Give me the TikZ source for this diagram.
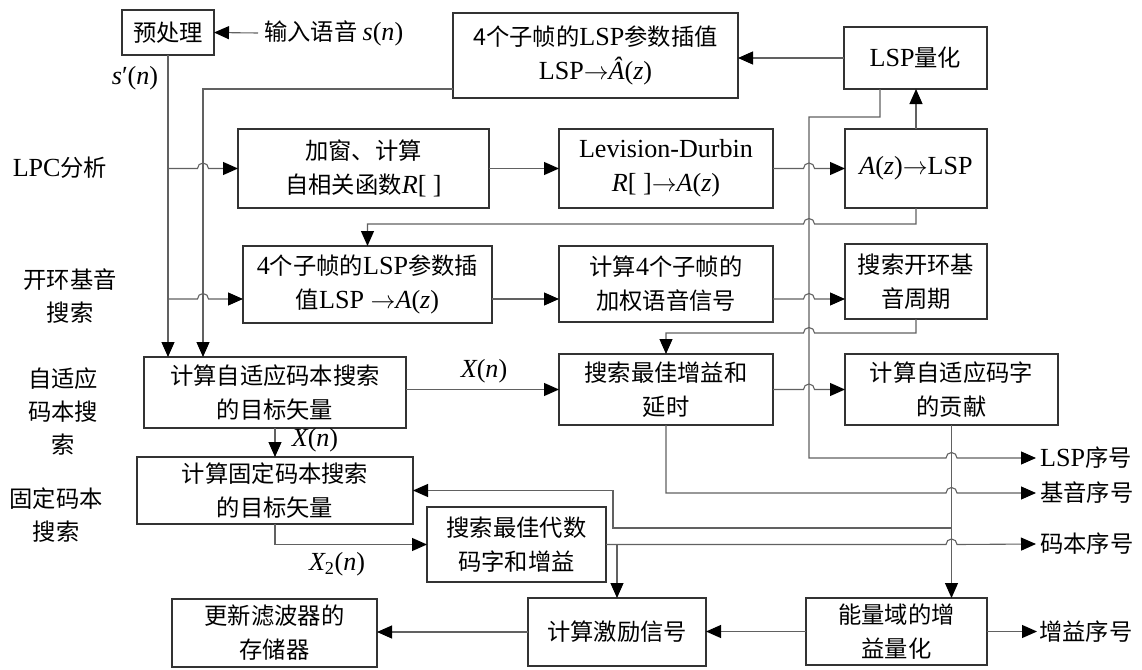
\documentclass[tikz,border=0pt]{standalone}
\usepackage{fontspec}
\setmainfont{Noto Sans CJK SC}
\newfontfamily\tm{Liberation Serif}[Scale=1.12]
\usetikzlibrary{arrows.meta,calc}
\newcommand\la[1]{{\tm #1}}
\newcommand\mi[1]{{\tm\itshape #1}}
\newcommand\ra{$\rightarrow$}
\newcommand\hopR[1]{-- ($(#1)+(-5.5pt,0pt)$) arc[start angle=180,end angle=0,radius=5.5pt]}
\newcommand\hopL[1]{-- ($(#1)+(5.5pt,0pt)$) arc[start angle=0,end angle=180,radius=5.5pt]}
\begin{document}
\begin{tikzpicture}[x=1pt,y=-1pt,
  box/.style={draw=black!80,line width=1.2pt,align=center,inner sep=0pt,outer sep=0pt,font=\fontsize{23.3}{34}\selectfont},
  lab/.style={align=center,inner sep=0pt,font=\fontsize{23.3}{33}\selectfont},
  ln/.style={draw=black!62,line width=1.1pt},
  arr/.style={ln,-{Triangle[length=15pt,width=13pt,color=black]}},
]
\useasboundingbox (0,0) rectangle (1142,669);
% boxes
\node[box,minimum width=92pt,minimum height=45pt] (pre) at (168,32.5) {预处理};
\node[box,minimum width=285pt,minimum height=85pt] (interp1) at (595.5,55.5) {4个子帧的\la{LSP}参数插值\\\la{LSP}\ra\mi{Â}\la{(}\mi{z}\la{)}};
\node[box,minimum width=143pt,minimum height=62pt] (lspq) at (915.5,58) {\la{LSP}量化};
\node[box,minimum width=251pt,minimum height=79pt] (win) at (363.5,168.5) {加窗、计算\\自相关函数\mi{R}\la{[ ]}};
\node[box,minimum width=214pt,minimum height=79pt] (ld) at (666,168.5) {\la{Levision-Durbin}\\\mi{R}\la{[ ]}\ra\mi{A}\la{(}\mi{z}\la{)}};
\node[box,minimum width=142pt,minimum height=79pt] (a2l) at (916,168.5) {\mi{A}\la{(}\mi{z}\la{)}\ra\la{LSP}};
\node[box,minimum width=249pt,minimum height=77pt] (interp2) at (367.5,284.5) {\la{4}个子帧的\la{LSP}参数插\\值\la{LSP }\ra\mi{A}\la{(}\mi{z}\la{)}};
\node[box,minimum width=214pt,minimum height=76pt] (wsig) at (666,284) {计算\la{4}个子帧的\\加权语音信号};
\node[box,minimum width=142pt,minimum height=75pt] (olp) at (916,281.5) {搜索开环基\\音周期};
\node[box,minimum width=262pt,minimum height=71pt] (acbt) at (275,392.5) {计算自适应码本搜索\\的目标矢量};
\node[box,minimum width=214pt,minimum height=71pt] (bestg) at (666,389.5) {搜索最佳增益和\\延时};
\node[box,minimum width=213pt,minimum height=71pt] (acw) at (951.5,389.5) {计算自适应码字\\的贡献};
\node[box,minimum width=276pt,minimum height=67pt] (fcbt) at (275,490.5) {计算固定码本搜索\\的目标矢量};
\node[box,minimum width=179pt,minimum height=75pt] (alg) at (516.5,544.5) {搜索最佳代数\\码字和增益};
\node[box,minimum width=205pt,minimum height=68pt] (upd) at (274.5,633) {更新滤波器的\\存储器};
\node[box,minimum width=178pt,minimum height=68pt] (exc) at (617,632) {计算激励信号};
\node[box,minimum width=181pt,minimum height=67pt] (gq) at (896.5,631.5) {能量域的增\\益量化};
% left labels
\node[lab] (l1) at (60,168) {\la{LPC}分析};
\node[lab] (l2) at (70,296) {开环基音\\搜索};
\node[lab] (l3) at (63,411) {自适应\\码本搜\\索};
\node[lab] (l4) at (56,515) {固定码本\\搜索};
% right labels
\node[lab,anchor=west,inner xsep=4pt] (lspidx) at (1036,458) {\la{LSP}序号};
\node[lab,anchor=west,inner xsep=4pt] (pitch) at (1036,493) {基音序号};
\node[lab,anchor=west,inner xsep=4pt] (cb) at (1036,544) {码本序号};
\node[lab,anchor=west,inner xsep=2pt] (gain) at (1037,631.5) {增益序号};
\node[lab,anchor=west,inner xsep=6pt] (inp) at (258,33) {输入语音 \mi{s}\la{(}\mi{n}\la{)}};
% edge labels
\node[lab] (sp) at (135,78) {\mi{s}\la{′(}\mi{n}\la{)}};
\node[lab] (xn1) at (484,371) {\mi{X}\la{(}\mi{n}\la{)}};
\node[lab] (xn2) at (315,440) {\mi{X}\la{(}\mi{n}\la{)}};
\node[lab] (xn3) at (337,564) {\mi{X}\textsubscript{\la{2}}\la{(}\mi{n}\la{)}};
% coordinates
\coordinate (v2) at (203,89);
\coordinate (r3) at (0,299);
\coordinate (vL) at (809,117);
\coordinate (q1) at (880,117);
\coordinate (f1) at (916,224);
\coordinate (f2) at (916,333);
\coordinate (j1) at (613,528);
% connectors
\draw[arr] (inp.west) -- (pre.east);
\draw[arr] (pre.south) -- (pre.south |- acbt.north);
\draw[arr] ($(interp1.south west)+(0,-9)$) -- (v2) -- (v2 |- acbt.north);
\draw[arr] (pre.south |- win.west) \hopR{v2 |- win.west} -- (win.west);
\draw[arr] (pre.south |- r3) \hopR{v2 |- r3} -- (interp2.west |- r3);
\draw[arr] (win.east) -- (ld.west);
\draw[arr] (ld.east) \hopR{vL |- ld.east} -- (a2l.west);
\draw[arr] (a2l.north) -- (a2l.north |- lspq.south);
\draw[arr] (lspq.west) -- (lspq.west -| interp1.east);
\draw[arr] (q1 |- lspq.south) -- (q1) -- (vL) -- (vL |- lspidx.west) \hopR{acw.south |- lspidx.west} -- (lspidx.west);
\draw[arr] (a2l.south) -- (f1) \hopL{vL |- f1} -- (interp2.north |- f1) -- (interp2.north);
\draw[arr] (interp2.east |- r3) -- (wsig.west |- r3);
\draw[arr] (wsig.east |- r3) \hopR{vL |- r3} -- (olp.west |- r3);
\draw[arr] (olp.south) -- (f2) \hopL{vL |- f2} -- (bestg.north |- f2) -- (bestg.north);
\draw[arr] (acbt.east |- bestg.west) -- (bestg.west);
\draw[arr] (bestg.east) \hopR{vL |- bestg.east} -- (acw.west);
\draw[arr] (acbt.south) -- (acbt.south |- fcbt.north);
\draw[arr] (fcbt.south) -- (fcbt.south |- alg.west) -- (alg.west);
\draw[arr] (bestg.south) -- (bestg.south |- pitch.west) \hopR{acw.south |- pitch.west} -- (pitch.west);
\draw[arr] (acw.south) -- (acw.south |- gq.north);
\draw[arr] (acw.south |- j1) -- (j1) -- (j1 |- fcbt.east) -- (fcbt.east);
\draw[arr] (alg.east) \hopR{acw.south |- alg.east} -- (cb.west);
\draw[arr] (exc.north |- alg.east) -- (exc.north);
\draw[arr] (gq.west) -- (gq.west -| exc.east);
\draw[arr] (exc.west) -- (exc.west -| upd.east);
\draw[arr] (gq.east) -- (gain.west);
\end{tikzpicture}
\end{document}
